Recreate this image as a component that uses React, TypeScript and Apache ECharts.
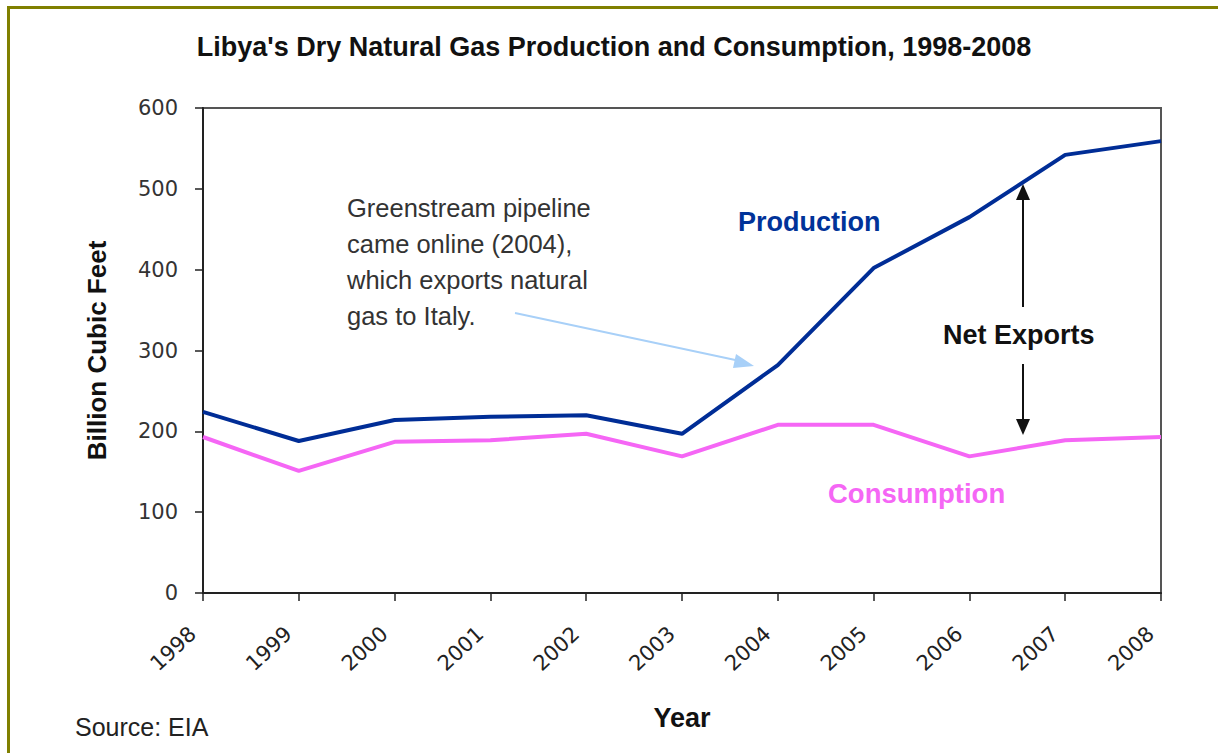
import React, { useEffect, useRef } from "react";
import * as echarts from "echarts";

const years = ["1998", "1999", "2000", "2001", "2002", "2003", "2004", "2005", "2006", "2007", "2008"];
const production = [224, 188, 214, 218, 220, 197, 282, 402, 465, 542, 559];
const consumption = [193, 151, 187, 189, 197, 169, 208, 208, 169, 189, 193];
const yTicks = { min: 0, max: 600, interval: 100 };

const title = "Libya's Dry Natural Gas Production and Consumption, 1998-2008";
const noteLines = ["Greenstream pipeline", "came online (2004),", "which exports natural", "gas to Italy."];

export default function App() {
  const ref = useRef<HTMLDivElement>(null);
  useEffect(() => {
    document.body.style.margin = "0";
    const chart = echarts.init(ref.current!, null, { renderer: "svg" });
    const font = "Arial, 'Liberation Sans', sans-serif";
    const wide = "'DejaVu Sans', sans-serif";
    chart.setOption({
      animation: false,
      backgroundColor: "#ffffff",
      title: {
        text: title,
        left: 609,
        top: 28,
        textAlign: "center",
        textStyle: { fontFamily: font, fontSize: 27, fontWeight: "bold", color: "#111" },
      },
      grid: {
        left: 203,
        right: 57,
        top: 108,
        bottom: 160,
        show: true,
        borderColor: "#555",
        borderWidth: 2,
        backgroundColor: "transparent",
      },
      xAxis: {
        type: "category",
        data: years,
        boundaryGap: false,
        name: "Year",
        nameLocation: "middle",
        nameGap: 111,
        nameTextStyle: { fontFamily: font, fontSize: 27, fontWeight: "bold", color: "#111" },
        axisLine: { lineStyle: { color: "#222", width: 2 } },
        axisTick: { show: true, length: 8, alignWithLabel: true, lineStyle: { color: "#222", width: 1.5 } },
        axisLabel: { rotate: 43, fontFamily: wide, fontSize: 21, color: "#222", margin: 28, padding: [0, 14, 0, 0] },
        splitLine: { show: false },
      },
      yAxis: {
        type: "value",
        min: yTicks.min,
        max: yTicks.max,
        interval: yTicks.interval,
        name: "Billion Cubic Feet",
        nameLocation: "middle",
        nameGap: 93,
        nameRotate: 90,
        nameTextStyle: { fontFamily: font, fontSize: 26, fontWeight: "bold", color: "#111" },
        axisLine: { show: true, lineStyle: { color: "#222", width: 2 } },
        axisTick: { show: true, length: 8, lineStyle: { color: "#222", width: 1.5 } },
        axisLabel: { fontFamily: wide, fontSize: 21, color: "#333", margin: 25 },
        splitLine: { show: false },
      },
      series: [
        {
          name: "Production",
          type: "line",
          data: production,
          symbol: "none",
          lineStyle: { color: "#002d96", width: 4 },
          z: 3,
        },
        {
          name: "Consumption",
          type: "line",
          data: consumption,
          symbol: "none",
          lineStyle: { color: "#f566f5", width: 4 },
          z: 3,
        },
      ],
      graphic: [
        {
          type: "rect",
          shape: { x: 8.5, y: 7.5, width: 1230, height: 780 },
          style: { fill: "none", stroke: "#808000", lineWidth: 3 },
          silent: true,
        },
        ...noteLines.map((t, i) => ({
          type: "text",
          left: 347,
          top: 194.5 + i * 36,
          style: { text: t, fontFamily: font, fontSize: 25.5, fill: "#333" },
        })),
        {
          type: "line",
          shape: { x1: 515, y1: 313, x2: 740, y2: 361 },
          style: { stroke: "#a8d0f8", lineWidth: 2 },
        },
        {
          type: "polygon",
          shape: { points: [[754, 366], [736, 354], [733, 368]] },
          style: { fill: "#a8d0f8" },
        },
        {
          type: "text",
          left: 738,
          top: 208.5,
          style: { text: "Production", fontFamily: font, fontSize: 27, fontWeight: "bold", fill: "#003399" },
        },
        {
          type: "text",
          left: 828,
          top: 479.5,
          style: { text: "Consumption", fontFamily: font, fontSize: 27.5, fontWeight: "bold", fill: "#f566f5" },
        },
        {
          type: "text",
          left: 943,
          top: 321.5,
          style: { text: "Net Exports", fontFamily: font, fontSize: 27, fontWeight: "bold", fill: "#111" },
        },
        {
          type: "line",
          shape: { x1: 1023, y1: 307, x2: 1023, y2: 195 },
          style: { stroke: "#111", lineWidth: 2 },
        },
        {
          type: "polygon",
          shape: { points: [[1023, 184], [1016, 200], [1030, 200]] },
          style: { fill: "#111" },
        },
        {
          type: "line",
          shape: { x1: 1023, y1: 364, x2: 1023, y2: 422 },
          style: { stroke: "#111", lineWidth: 2 },
        },
        {
          type: "polygon",
          shape: { points: [[1023, 435], [1016, 419], [1030, 419]] },
          style: { fill: "#111" },
        },
        {
          type: "text",
          left: 75,
          top: 714.5,
          style: { text: "Source: EIA", fontFamily: font, fontSize: 25, fill: "#222" },
        },
      ],
    });
    return () => chart.dispose();
  }, []);
  return <div ref={ref} style={{ width: 1218, height: 753 }} />;
}
